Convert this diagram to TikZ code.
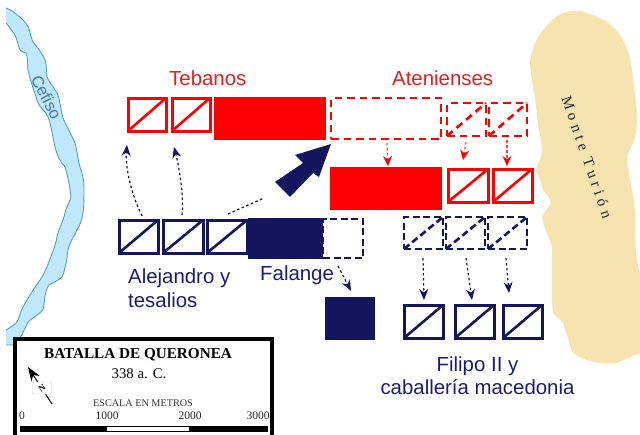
\documentclass[tikz,border=0pt]{standalone}
\usepackage{fontspec}
\setmainfont{Liberation Sans}
\newfontfamily\mapserif{Liberation Serif}
\newfontfamily\mtfont[LetterSpace=30]{Liberation Serif}
\usetikzlibrary{arrows.meta}
\definecolor{navy}{HTML}{15155E}
\definecolor{navytext}{HTML}{1C1C78}
\definecolor{redunit}{HTML}{FF0000}
\definecolor{redtext}{HTML}{E2201C}
\definecolor{riverfill}{HTML}{BFE8FC}
\definecolor{riverline}{HTML}{5A9DB8}
\definecolor{mount}{HTML}{F6E3B0}
\tikzset{
  base/.style={rectangle,inner sep=0pt,outer sep=0pt},
  solidred/.style={base,fill=redunit},
  solidnavy/.style={base,fill=navy},
  unitred/.style={base,draw=redunit,fill=white,line width=3pt},
  unitnavy/.style={base,draw=navy,fill=white,line width=3pt},
  dashred/.style={base,draw=redunit,line width=2.8pt,dash pattern=on 7.5pt off 5pt},
  dashnavy/.style={base,draw=navy,line width=2.8pt,dash pattern=on 7pt off 3.5pt},
  diagred/.style={draw=redunit,line width=2.6pt},
  diagnavy/.style={draw=navy,line width=2.6pt},
  moveR/.style={draw=redunit!75!white,line width=1.2pt,dash pattern=on 2.5pt off 2.5pt,-{Stealth[length=10pt,width=9pt,fill=redunit,color=redunit]}},
  moveN/.style={draw=navy,line width=1.2pt,dash pattern=on 2.5pt off 2.5pt,-{Stealth[length=11pt,width=9pt,fill=navy,color=navy]}},
  armylabel/.style={font=\fontsize{20.4}{23}\selectfont,inner sep=0pt,anchor=base west,align=left},
  scaletext/.style={font=\mapserif\fontsize{11.5}{13}\selectfont,text=black!85,inner sep=0pt},
}
% name, x1, y1, x2, y2, style
\newcommand{\boxunit}[6]{\node[#6,minimum width=#4pt-#2pt,minimum height=#5pt-#3pt] (#1) at ({(#2+#4)/2},{(#3+#5)/2}) {};}
\newcommand{\unitdiag}[2]{\draw[#2] (#1.south west) -- (#1.north east);}
\begin{document}
\begin{tikzpicture}[x=1pt,y=-1pt]
\useasboundingbox (0,0) rectangle (640,434);
\clip (0,0) rectangle (640,434);
% river
\begin{scope}
\clip (6,0) rectangle (640,434);
\draw[fill=riverfill,draw=riverline,line width=0.9pt]
 (3,6) -- (6,8) .. controls (11,10) and (14,12) .. (17,15)
 .. controls (24,20) and (29,26) .. (30,32)
 .. controls (31,37) and (32,40) .. (33,42)
 .. controls (38,48) and (43,55) .. (45,60)
 .. controls (47,66) and (46,72) .. (47,77)
 .. controls (50,84) and (56,90) .. (58,95)
 .. controls (60,102) and (61,110) .. (63,118)
 .. controls (67,128) and (72,135) .. (75,143)
 .. controls (77,150) and (78,160) .. (80,167)
 .. controls (83,175) and (84,182) .. (84,187)
 .. controls (84,197) and (84,205) .. (83,213)
 .. controls (82,220) and (80,225) .. (77,230)
 .. controls (73,238) and (69,244) .. (68,250)
 .. controls (67,256) and (67,262) .. (65,267)
 .. controls (64,272) and (64,274) .. (62,277)
 .. controls (58,281) and (52,283) .. (49,285)
 .. controls (44,292) and (45,302) .. (43,310)
 .. controls (38,315) and (32,318) .. (28,322)
 .. controls (25,328) and (23,333) .. (20,338)
 -- (15,345) -- (3,345) -- (3,332) -- (6,330)
 .. controls (10,328) and (14,325) .. (17,322)
 .. controls (20,316) and (20,312) .. (23,307)
 .. controls (27,300) and (31,293) .. (35,287)
 .. controls (40,281) and (44,274) .. (47,267)
 .. controls (50,258) and (55,248) .. (57,237)
 .. controls (59,228) and (63,222) .. (65,213)
 .. controls (66,207) and (70,202) .. (71,197)
 .. controls (70,187) and (68,177) .. (65,167)
 .. controls (60,162) and (57,155) .. (55,147)
 .. controls (53,138) and (52,131) .. (50,123)
 .. controls (49,118) and (47,115) .. (45,112)
 .. controls (41,108) and (38,104) .. (37,100)
 .. controls (34,90) and (30,80) .. (28,70)
 .. controls (27,63) and (28,57) .. (26,53)
 .. controls (23,52) and (21,52) .. (20,50)
 .. controls (18,45) and (17,39) .. (15,35)
 .. controls (12,31) and (9,26) .. (6,23) -- (3,20) -- cycle;
\end{scope}
\node[rotate=-62,text=riverline!75!blue,font=\fontsize{16.5}{18}\selectfont,inner sep=0pt] (cefiso) at (46.5,97) {Cefiso};
% mountain
\fill[mount]
 (563,13) .. controls (570,11) and (576,10) .. (582,11)
 .. controls (592,14) and (600,18) .. (607,22)
 .. controls (615,28) and (620,34) .. (623,40)
 .. controls (628,50) and (631,60) .. (632,70)
 .. controls (634,85) and (636,100) .. (637,117)
 .. controls (637,127) and (636,135) .. (633,143)
 .. controls (630,150) and (627,155) .. (627,160)
 .. controls (629,178) and (634,195) .. (635,213)
 .. controls (635,225) and (635,240) .. (636,250)
 .. controls (637,260) and (638,270) .. (642,277)
 -- (642,352) -- (617,363)
 .. controls (608,364) and (600,363) .. (593,362)
 .. controls (586,360) and (578,357) .. (573,353)
 .. controls (569,343) and (566,332) .. (563,323)
 .. controls (560,319) and (555,316) .. (553,313)
 .. controls (551,295) and (552,270) .. (552,247)
 .. controls (549,237) and (543,227) .. (542,217)
 .. controls (544,211) and (549,208) .. (551,203)
 .. controls (550,197) and (546,194) .. (543,190)
 .. controls (541,182) and (539,175) .. (536,172)
 .. controls (537,164) and (542,157) .. (542,150)
 .. controls (541,138) and (538,128) .. (537,117)
 .. controls (536,100) and (531,80) .. (530,63)
 .. controls (531,53) and (534,45) .. (538,37)
 .. controls (542,31) and (546,26) .. (550,22)
 .. controls (554,18) and (558,15) .. (563,13) -- cycle;
\node[rotate=-71,font=\mtfont\fontsize{15}{16}\selectfont,text=black!85,inner sep=0pt] (turion) at (587,157) {Monte Turión};
% Theban units
\boxunit{t1}{128}{98}{166}{131}{unitred}\unitdiag{t1}{diagred}
\boxunit{t2}{172}{98}{210}{131}{unitred}\unitdiag{t2}{diagred}
\boxunit{t3}{214}{97}{326}{140}{solidred}
% Athenian start
\boxunit{a1}{331}{98}{441}{139}{dashred}
\boxunit{a2}{447}{103}{486}{136}{dashred}\draw[diagred,dash pattern=on 7.5pt off 5pt] (a2.south west) -- (a2.north east);
\boxunit{a3}{489}{103}{527}{136}{dashred}\draw[diagred,dash pattern=on 7.5pt off 5pt] (a3.south west) -- (a3.north east);
% Athenian end
\boxunit{a4}{330}{167}{442}{210}{solidred}
\boxunit{a5}{448}{169}{488}{202}{unitred}\unitdiag{a5}{diagred}
\boxunit{a6}{493}{169}{532}{202}{unitred}\unitdiag{a6}{diagred}
% Macedonian left
\boxunit{n1}{119}{220}{158}{253}{unitnavy}\unitdiag{n1}{diagnavy}
\boxunit{n2}{163}{220}{203}{253}{unitnavy}\unitdiag{n2}{diagnavy}
\boxunit{n3}{207}{220}{247}{253}{unitnavy}\unitdiag{n3}{diagnavy}
\boxunit{f2}{323}{219}{363}{258}{dashnavy}
\boxunit{f1}{248}{218}{323}{259}{solidnavy}
\boxunit{f3}{325}{297}{375}{340}{solidnavy}
% Macedonian right
\boxunit{p1}{404}{217}{443}{249}{dashnavy}\draw[diagnavy,dash pattern=on 7pt off 3.5pt] (p1.south west) -- (p1.north east);
\boxunit{p2}{446}{217}{485}{249}{dashnavy}\draw[diagnavy,dash pattern=on 7pt off 3.5pt] (p2.south west) -- (p2.north east);
\boxunit{p3}{488}{217}{527}{249}{dashnavy}\draw[diagnavy,dash pattern=on 7pt off 3.5pt] (p3.south west) -- (p3.north east);
\boxunit{q1}{404}{305}{443}{338}{unitnavy}\unitdiag{q1}{diagnavy}
\boxunit{q2}{455}{305}{494}{338}{unitnavy}\unitdiag{q2}{diagnavy}
\boxunit{q3}{503}{305}{542}{338}{unitnavy}\unitdiag{q3}{diagnavy}
% free ends of the movement arrows
\coordinate (e1s) at (142,216); \coordinate (e1t) at (127,145);
\coordinate (e2s) at (182,215); \coordinate (e2t) at (174,147);
\coordinate (e3s) at (228,214); \coordinate (e3t) at (264,198);
\coordinate (r1s) at (387,143); \coordinate (r1t) at (388,166);
\coordinate (r2s) at (466,142); \coordinate (r2t) at (463,160);
\coordinate (r3s) at (507,140); \coordinate (r3t) at (507,166);
\coordinate (fs) at (338,266); \coordinate (ft) at (351,291);
\coordinate (c1s) at (423,258); \coordinate (c1t) at (424,300);
\coordinate (c2s) at (466,258); \coordinate (c2t) at (472,300);
\coordinate (c3s) at (506,258); \coordinate (c3t) at (509,293);
\draw[moveN] (e1s) .. controls (133,198) and (125,170) .. (e1t);
\draw[moveN] (e2s) .. controls (184,200) and (180,170) .. (e2t);
\draw[draw=navy,line width=1.2pt,dash pattern=on 2.5pt off 2.5pt] (e3s) -- (e3t);
\draw[moveR] (r1s) -- (r1t);
\draw[moveR] (r2s) -- (r2t);
\draw[moveR] (r3s) -- (r3t);
\draw[moveN] (fs) -- (ft);
\draw[moveN] (c1s) -- (c1t);
\draw[moveN] (c2s) -- (c2t);
\draw[moveN] (c3s) -- (c3t);
% big arrow
\fill[navy] (331,144) -- (295,155) -- (303,163) -- (275,182) -- (290,197) -- (313,173) -- (319,177) -- cycle;
% labels
\node[armylabel,text=redtext] (tebanos) at (169,85) {Tebanos};
\node[armylabel,text=redtext] (atenienses) at (392,85) {Atenienses};
\node[armylabel,text=navytext] (alej) at (128,283) {Alejandro y};
\node[armylabel,text=navytext] (tes) at (128,307) {tesalios};
\node[armylabel,text=navytext] (falange) at (260,280) {Falange};
\node[text=navytext,font=\fontsize{20.4}{23}\selectfont,align=center,inner sep=0pt] (filipo) at (477.5,375.5) {Filipo II y\\caballería macedonia};
% legend
\draw[fill=white,draw=black,line width=4pt] (14.7,339.3) rectangle (272,445);
\node[font=\mapserif\bfseries\fontsize{15.2}{17}\selectfont,inner sep=0pt] (ltitle) at (138,355) {BATALLA DE QUERONEA};
\node[font=\mapserif\fontsize{14.8}{16}\selectfont,inner sep=0pt] (ldate) at (139,374) {338 a. C.};
\node[font=\mapserif\fontsize{10.2}{12}\selectfont,text=black!80,inner sep=0pt] (lscale) at (143,403) {ESCALA EN METROS};
\node[scaletext] (l0) at (22,416) {0};
\node[scaletext] (l1) at (107,416) {1000};
\node[scaletext] (l2) at (190,416) {2000};
\node[scaletext] (l3) at (258,416) {3000};
\fill[black] (20,426) rectangle (268,432);
\fill[white] (107,427) rectangle (189,431);
\coordinate (ntip) at (28,367); \coordinate (ntail) at (52,404);
\draw[line width=1pt,-{Stealth[length=14pt,width=10pt]}] (ntail) -- (ntip);
\node[draw=black!20,fill=white,rounded corners=1pt,minimum width=19pt,minimum height=12pt,inner sep=0pt] (nbox) at (42,388) {};
\node[rotate=32,font=\mapserif\bfseries\fontsize{9}{10}\selectfont,inner sep=0pt] (nlabel) at (42,388) {N};
\end{tikzpicture}
\end{document}
